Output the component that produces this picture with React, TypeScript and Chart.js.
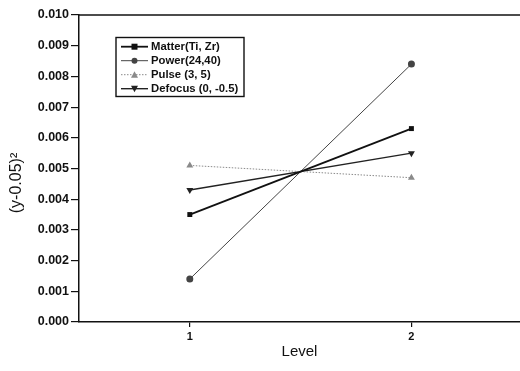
import React, { useEffect, useRef } from "react";
import { Chart, registerables } from "chart.js";

Chart.register(...registerables);

const levels = [1, 2];
const matter = [0.0035, 0.0063];
const power = [0.0014, 0.0084];
const pulse = [0.0051, 0.0047];
const defocus = [0.0043, 0.0055];
const seriesNames = ["Matter(Ti, Zr)", "Power(24,40)", "Pulse (3, 5)", "Defocus (0, -0.5)"];
const yTitle = "(y-0.05)²";
const xTitle = "Level";

const FONT = "'Liberation Sans', Arial, sans-serif";

const styles = [
  { color: "#111", width: 1.8, dash: [] as number[], point: "rect", rot: 0, r: 3.5 },
  { color: "#444", width: 1, dash: [] as number[], point: "circle", rot: 0, r: 3.5 },
  { color: "#8a8a8a", width: 1, dash: [1.5, 1.5], point: "triangle", rot: 0, r: 4 },
  { color: "#222", width: 1.4, dash: [] as number[], point: "triangle", rot: 180, r: 4 },
];

const legendPlugin = {
  id: "boxLegend",
  afterDraw(chart: any) {
    const ctx = chart.ctx;
    const ca = chart.chartArea;
    ctx.save();
    ctx.strokeStyle = "#111";
    ctx.lineWidth = 1.5;
    ctx.beginPath();
    ctx.moveTo(ca.left, ca.top);
    ctx.lineTo(ca.right, ca.top);
    ctx.stroke();
    // y axis title
    ctx.save();
    ctx.translate(17, 183);
    ctx.rotate(-Math.PI / 2);
    ctx.font = `16px ${FONT}`;
    ctx.fillStyle = "#111";
    ctx.textAlign = "center";
    ctx.textBaseline = "middle";
    ctx.fillText(yTitle, 0, 0);
    ctx.restore();
    const bx = 116, by = 37.5, bw = 128, bh = 59;
    ctx.fillStyle = "#fff";
    ctx.fillRect(bx, by, bw, bh);
    ctx.lineWidth = 1.4;
    ctx.strokeRect(bx, by, bw, bh);
    ctx.font = `bold 11.3px ${FONT}`;
    ctx.textBaseline = "middle";
    ctx.textAlign = "left";
    seriesNames.forEach((name, i) => {
      const s = styles[i];
      const y = 46.7 + i * 14;
      ctx.strokeStyle = s.color;
      ctx.lineWidth = s.width;
      ctx.setLineDash(s.dash);
      ctx.beginPath();
      ctx.moveTo(121, y);
      ctx.lineTo(148, y);
      ctx.stroke();
      ctx.setLineDash([]);
      ctx.fillStyle = s.color;
      const cx = 134.5;
      if (s.point === "rect") {
        ctx.fillRect(cx - 3, y - 3, 6, 6);
      } else if (s.point === "circle") {
        ctx.beginPath();
        ctx.arc(cx, y, 3, 0, Math.PI * 2);
        ctx.fill();
      } else {
        const d = s.rot ? -1 : 1;
        ctx.beginPath();
        ctx.moveTo(cx, y - 3.5 * d);
        ctx.lineTo(cx + 3.5, y + 3 * d);
        ctx.lineTo(cx - 3.5, y + 3 * d);
        ctx.closePath();
        ctx.fill();
      }
      ctx.fillStyle = "#111";
      ctx.fillText(name, 151, y + 0.5);
    });
    ctx.restore();
  },
};

export default function App() {
  const ref = useRef<HTMLCanvasElement>(null);
  useEffect(() => {
    document.body.style.margin = "0";
    const all = [matter, power, pulse, defocus];
    const chart = new Chart(ref.current!, {
      type: "line",
      data: {
        datasets: all.map((vals, i) => ({
          label: seriesNames[i],
          data: levels.map((x, j) => ({ x, y: vals[j] })),
          borderColor: styles[i].color,
          backgroundColor: styles[i].color,
          borderWidth: styles[i].width,
          borderDash: styles[i].dash,
          pointStyle: styles[i].point as any,
          pointRotation: styles[i].rot,
          pointRadius: styles[i].r,
          pointBorderWidth: 0,
          tension: 0,
        })),
      },
      options: {
        animation: false,
        responsive: false,
        layout: { autoPadding: false, padding: { top: 15, right: 0, left: 0, bottom: 0 } },
        plugins: { legend: { display: false }, tooltip: { enabled: false } },
        scales: {
          x: {
            type: "linear",
            min: 0.5,
            max: 2.49,
            afterBuildTicks: (s: any) => {
              s.ticks = levels.map((v) => ({ value: v }));
            },
            afterFit: (s: any) => {
              s.height = 49;
            },
            grid: { drawOnChartArea: false, tickLength: 5, color: "#111", lineWidth: 1.2 },
            border: { color: "#111", width: 1.5 },
            ticks: { color: "#111", font: { family: FONT, size: 11, weight: "bold" }, padding: 3, callback: (v: any) => String(v) },
            title: { display: true, text: xTitle, color: "#111", font: { family: FONT, size: 15 }, padding: { top: 0, bottom: 10 } },
          },
          y: {
            min: 0,
            max: 0.01,
            afterFit: (s: any) => {
              s.width = 79;
            },
            grid: { drawOnChartArea: false, tickLength: 8, color: "#111", lineWidth: 1.2 },
            border: { color: "#111", width: 1.5 },
            ticks: {
              stepSize: 0.001,
              color: "#111",
              font: { family: FONT, size: 12.5, weight: "bold" },
              padding: 2,
              callback: (v: any) => Number(v).toFixed(3),
            },
          },
        },
      },
      plugins: [legendPlugin],
    });
    return () => chart.destroy();
  }, []);
  return <canvas ref={ref} width={520} height={371} style={{ display: "block" }} />;
}
